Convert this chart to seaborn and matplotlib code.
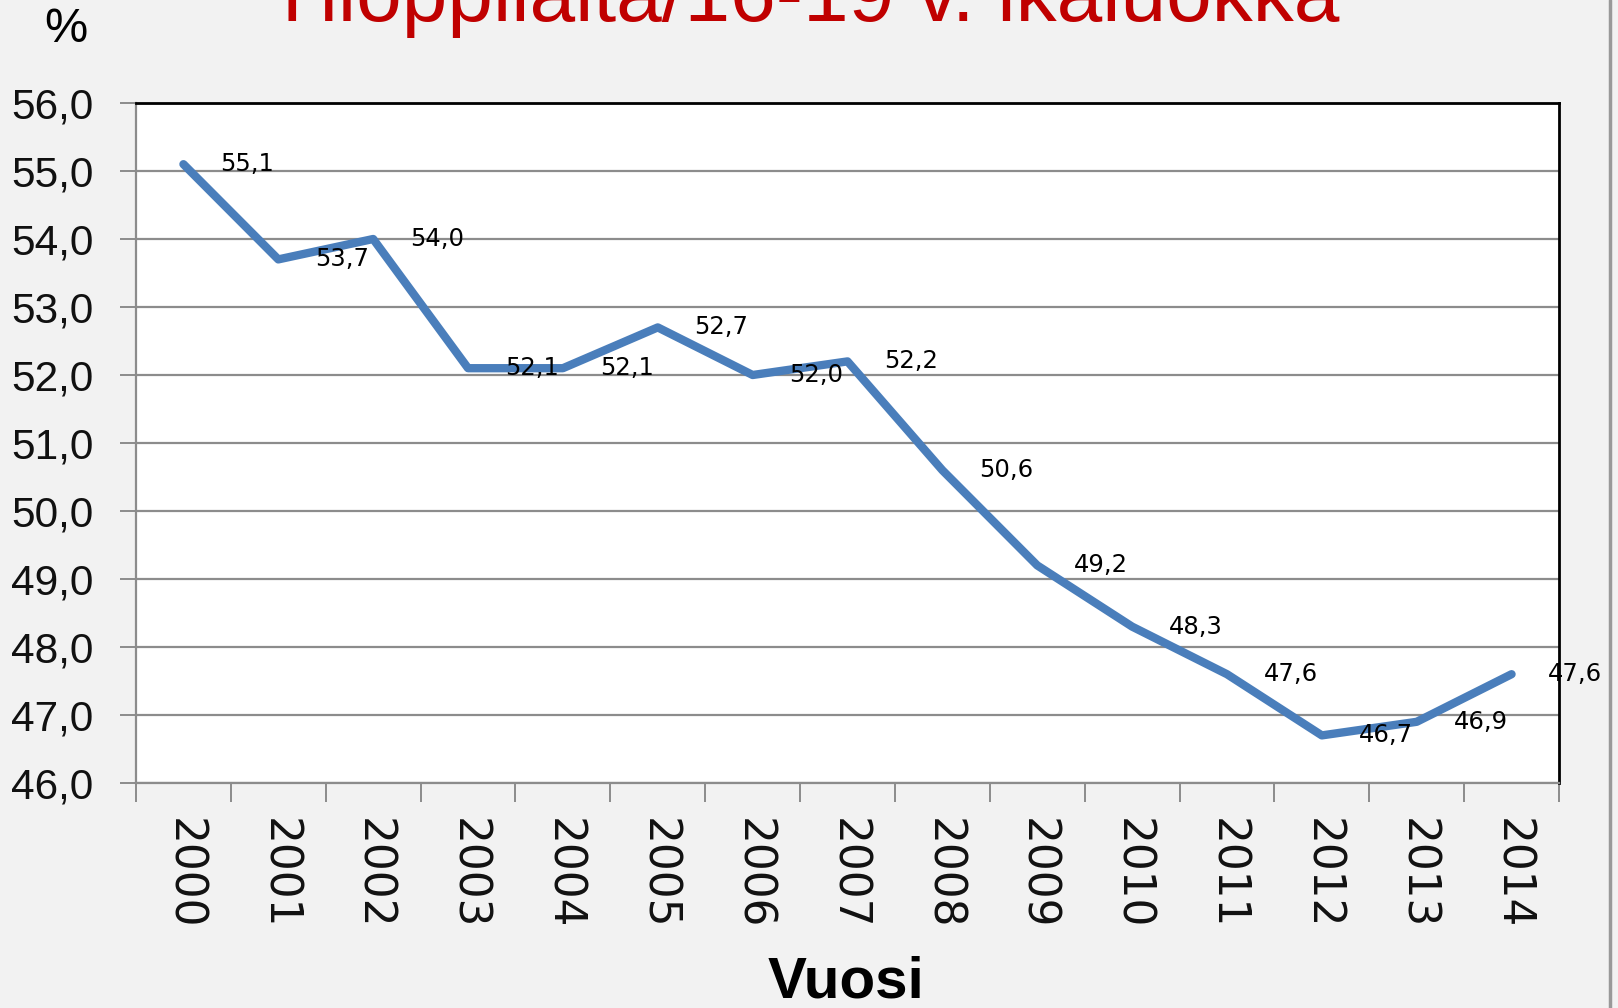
import matplotlib
matplotlib.use("Agg")
import matplotlib.pyplot as plt
from matplotlib.lines import Line2D
import seaborn as sns
import numpy as np
import pandas as pd

# ---- data ----
years = ["2000", "2001", "2002", "2003", "2004", "2005", "2006", "2007",
         "2008", "2009", "2010", "2011", "2012", "2013", "2014"]
values = [55.1, 53.7, 54.0, 52.1, 52.1, 52.7, 52.0, 52.2,
          50.6, 49.2, 48.3, 47.6, 46.7, 46.9, 47.6]
y_ticks = [46, 47, 48, 49, 50, 51, 52, 53, 54, 55, 56]
title_text = "Ylioppilaita/16-19 v. ikäluokka"
x_label = "Vuosi"
y_unit = "%"

sns.set_theme(style="white")
plt.rcParams['font.family'] = ['Liberation Sans', 'DejaVu Sans']

W, H = 1618, 1008
fig = plt.figure(figsize=(W / 100, H / 100), dpi=100)
fig.patch.set_facecolor("#f2f2f2")

L, R, T, B = 136, 1559, 103, 783
ax = fig.add_axes([L / W, 1 - B / H, (R - L) / W, (B - T) / H])
ax.set_facecolor("white")

df = pd.DataFrame({"pos": np.arange(len(years)), "val": values})
sns.lineplot(data=df, x="pos", y="val", ax=ax, color="#4a7ebb",
             linewidth=6, zorder=3)

ax.set_xlim(-0.5, len(years) - 0.5)
ax.set_ylim(y_ticks[0], y_ticks[-1])

# gridlines
ax.set_yticks(y_ticks)
ax.set_yticklabels([f"{v:.1f}".replace(".", ",") for v in y_ticks])
ax.yaxis.grid(True, color="#8c8c8c", linewidth=1.6, zorder=1)
ax.xaxis.grid(False)
ax.tick_params(axis="y", which="major", direction="out", length=11.5,
               width=1.4, color="#8c8c8c", pad=19, labelsize=30.5,
               labelcolor="#111111", left=True)

# x ticks: marks at category boundaries, labels at centers
ax.set_xticks(np.arange(len(years) + 1) - 0.5)
ax.set_xticklabels([])
ax.set_xticks(np.arange(len(years)), minor=True)
ax.set_xticklabels(years, minor=True, rotation=270, fontsize=31.5,
                   family="DejaVu Sans", va="top", ha="center")
ax.tick_params(axis="x", which="major", direction="out", length=13.7,
               width=1.4, color="#8c8c8c", bottom=True)
ax.tick_params(axis="x", which="minor", length=0, pad=25, bottom=True,
               labelcolor="#111111")

for side in ["left", "bottom"]:
    ax.spines[side].set_color("#8c8c8c")
    ax.spines[side].set_linewidth(1.6)
for side in ["top", "right"]:
    ax.spines[side].set_color("black")
    ax.spines[side].set_linewidth(2.0)
ax.set_xlabel("")
ax.set_ylabel("")

# data labels
for i, v in enumerate(values):
    ax.annotate(f"{v:.1f}".replace(".", ","), (i, v), xytext=(26.5, 0),
                textcoords="offset points", ha="left", va="center",
                fontsize=17.5, family="DejaVu Sans", color="black",
                zorder=5, annotation_clip=False)

# title (clipped at top, as in the original), % unit, x-axis label
fig.text(802 / W, 1 - 21 / H, title_text, color="#c00000", fontsize=59,
         ha="center", va="baseline")
fig.text(66 / W, 1 - 29 / H, y_unit, fontsize=35, ha="center",
         va="center", color="black")
fig.text(846 / W, 1 - 997 / H, x_label, fontsize=42, fontweight="bold",
         ha="center", va="baseline", color="black")

# right frame edge
fig.add_artist(Line2D([1610 / W, 1610 / W], [0, 1], color="#999999",
                      linewidth=2.5, transform=fig.transFigure))

fig.savefig("out.png", dpi=100, facecolor=fig.get_facecolor())
